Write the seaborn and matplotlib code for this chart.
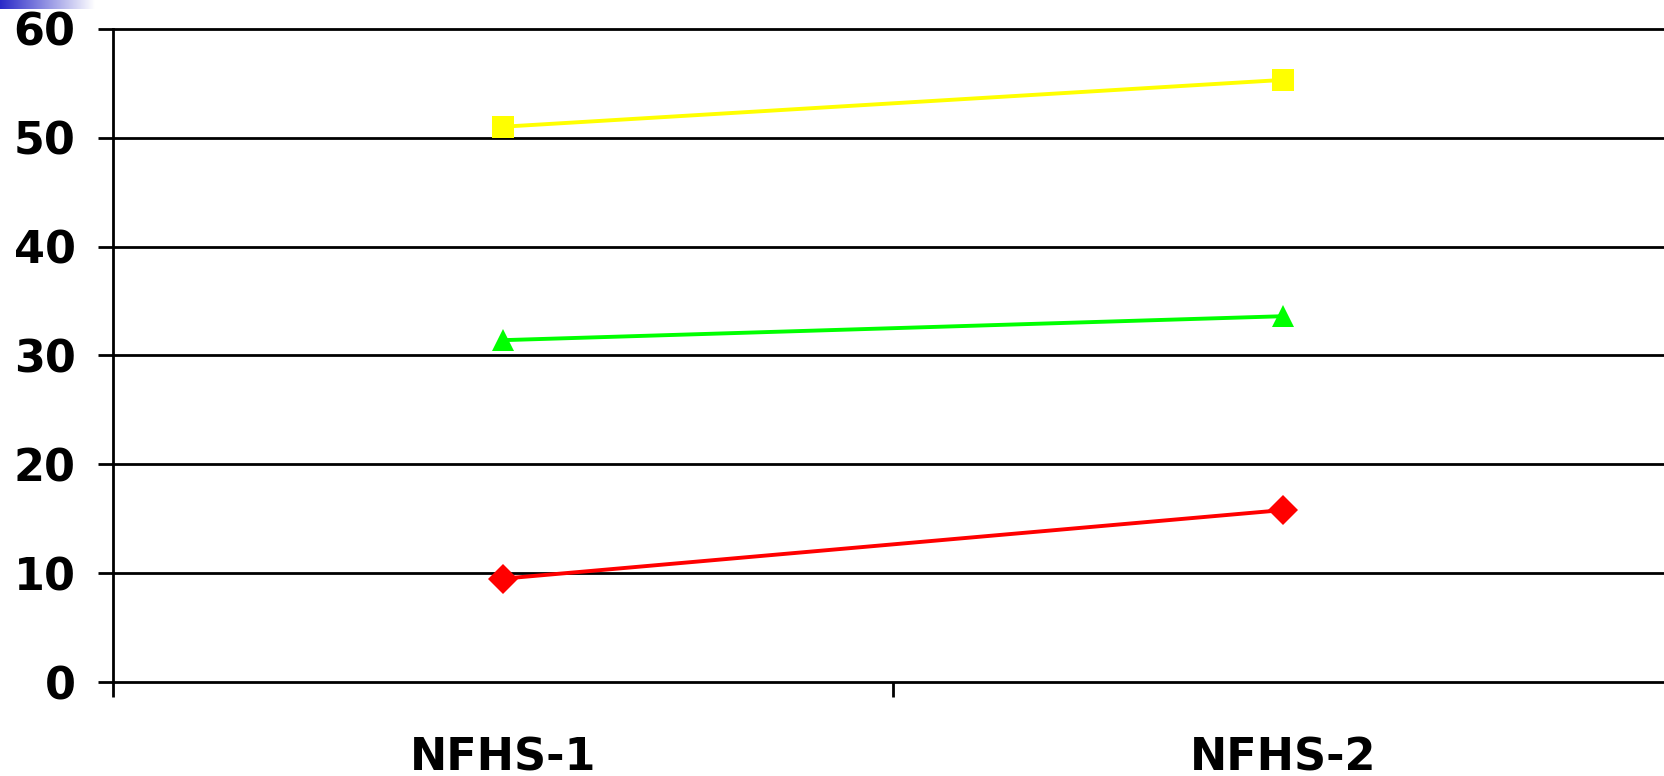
import numpy as np
import pandas as pd
from matplotlib import pyplot as plt
from matplotlib.colors import LinearSegmentedColormap
import seaborn as sns

sns.set_style("white")
plt.rcParams['font.family'] = ['DejaVu Sans']
plt.rcParams['text.color'] = 'black'
plt.rcParams['xtick.color'] = 'black'
plt.rcParams['ytick.color'] = 'black'

# Data
surveys = ["NFHS-1", "NFHS-2"]
series_a = [51.0, 55.3]   # yellow, squares
series_b = [31.4, 33.6]   # green, triangles
series_c = [9.5, 15.8]    # red, diamonds
y_ticks = [0, 10, 20, 30, 40, 50, 60]

df = pd.DataFrame({
    "Survey": surveys * 3,
    "Value": series_a + series_b + series_c,
    "Series": ["A"] * 2 + ["B"] * 2 + ["C"] * 2,
})

fig = plt.figure(figsize=(16.64, 7.76), dpi=100)
# axes runs slightly past the right edge of the picture
ax = fig.add_axes([0.068, 0.121, 0.9375, 0.842])

sns.lineplot(data=df, x="Survey", y="Value", hue="Series", style="Series",
             palette={"A": "#FFFF00", "B": "#00FF00", "C": "#FF0000"},
             markers={"A": "s", "B": "^", "C": "D"}, dashes=False,
             linewidth=2.8, markersize=15.5, markeredgewidth=0,
             legend=False, ax=ax)

ax.set_xlim(-0.5, 1.5)
ax.set_ylim(0, 60)
ax.set_yticks(y_ticks)
ax.set_yticklabels([str(t) for t in y_ticks], fontsize=32, fontweight='bold', color='black')
ax.set_xticks([0, 1])
ax.set_xticklabels(surveys, fontsize=32, fontweight='bold', color='black')
ax.set_xticks([-0.5, 0.5, 1.5], minor=True)
ax.tick_params(axis='x', which='major', length=0, pad=39, bottom=True)
ax.tick_params(axis='x', which='minor', length=11, width=2, color='black',
               direction='out', bottom=True)
ax.tick_params(axis='y', length=11, width=2, color='black', direction='out', pad=16, left=True)
ax.set_xlabel("")
ax.set_ylabel("")

# Horizontal gridlines (unclipped so the 0 and 60 lines keep full width)
ax.yaxis.grid(True, color='black', linewidth=2)
ax.set_axisbelow(True)
for line in ax.get_ygridlines():
    line.set_clip_on(False)
for side in ['top', 'right', 'bottom']:
    ax.spines[side].set_visible(False)
ax.spines['left'].set_color('black')
ax.spines['left'].set_linewidth(2)

# Slide decoration in the top-left corner
deco = fig.add_axes([0, 1 - 9 / 776, 95 / 1664, 9 / 776])
grad = np.linspace(0, 1, 256).reshape(1, -1)
cmap = LinearSegmentedColormap.from_list("deco", ["#2a2ac8", "#ffffff"])
deco.imshow(grad, aspect='auto', cmap=cmap)
deco.axis('off')

plt.savefig('out.png', dpi=100)
